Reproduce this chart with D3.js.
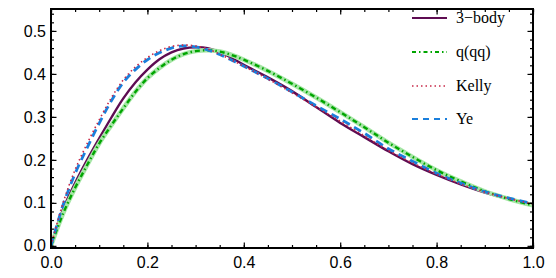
<!DOCTYPE html>
<html>
<head>
<meta charset="utf-8">
<script src="https://cdn.jsdelivr.net/npm/d3@7"></script>
<style>
  body { margin: 0; background: #fff; }
  svg { display: block; }
</style>
</head>
<body>
<svg></svg>
<script>
const xs = [0, 0.025, 0.05, 0.075, 0.1, 0.125, 0.15, 0.175, 0.2, 0.225, 0.25, 0.275, 0.3, 0.325, 0.35, 0.375, 0.4,
            0.45, 0.5, 0.55, 0.6, 0.65, 0.7, 0.75, 0.8, 0.85, 0.9, 0.95, 1.0];

const threeBody = [0, 0.085, 0.146, 0.200, 0.250, 0.298, 0.343, 0.380, 0.410, 0.434, 0.450, 0.459, 0.462, 0.460, 0.451, 0.437, 0.421,
                   0.392, 0.360, 0.323, 0.286, 0.253, 0.220, 0.190, 0.165, 0.143, 0.124, 0.109, 0.097];
const qqq = [0, 0.075, 0.135, 0.188, 0.238, 0.280, 0.320, 0.358, 0.390, 0.414, 0.433, 0.446, 0.453, 0.455, 0.452, 0.444, 0.433,
             0.407, 0.377, 0.345, 0.311, 0.276, 0.240, 0.207, 0.176, 0.150, 0.127, 0.109, 0.094];
const kelly = [0, 0.100, 0.177, 0.238, 0.293, 0.344, 0.386, 0.416, 0.438, 0.454, 0.464, 0.467, 0.465, 0.458, 0.446, 0.432, 0.418,
               0.388, 0.356, 0.323, 0.290, 0.256, 0.222, 0.193, 0.167, 0.144, 0.125, 0.110, 0.097];
const ye = [0, 0.095, 0.168, 0.228, 0.285, 0.337, 0.380, 0.410, 0.433, 0.449, 0.460, 0.465, 0.463, 0.456, 0.445, 0.432, 0.418,
            0.389, 0.358, 0.326, 0.295, 0.262, 0.226, 0.197, 0.169, 0.146, 0.126, 0.111, 0.098];

const xTicks = [0, 0.2, 0.4, 0.6, 0.8, 1.0];
const yTicks = [0, 0.1, 0.2, 0.3, 0.4, 0.5];
const legendNames = ['3\u2212body', 'q(qq)', 'Kelly', 'Ye'];

const width = 556;
const height = 278;
const padLeft = 51, padRight = 533, padTop = 9, padBottom = 248;

const svg = d3.select('svg').attr('width', width).attr('height', height);

const xScale = d3.scaleLinear().domain([0, 1]).range([padLeft, padRight]);
const yScale = d3.scaleLinear().domain([-0.005, 0.551]).range([padBottom, padTop]);

const series = [
  { name: legendNames[0], values: threeBody, color: '#5e0c52', width: 2.4, dash: null },
  { name: legendNames[1], values: qqq, color: '#00a500', width: 2.4, dash: '5,3,1.5,3', halo: '#a6e6a6' },
  { name: legendNames[3], values: ye, color: '#1a7fdc', width: 2.8, dash: '8,5' },
  { name: legendNames[2], values: kelly, color: '#c82848', width: 1.6, dash: '1.5,3' }
];

const line = d3.line()
  .x((d, i) => xScale(xs[i]))
  .y(d => yScale(d))
  .curve(d3.curveCatmullRom.alpha(0.5));

const plot = svg.append('g');
plot.append('clipPath').attr('id', 'clip')
  .append('rect').attr('x', padLeft).attr('y', padTop).attr('width', padRight - padLeft).attr('height', padBottom - padTop);

const curves = plot.append('g').attr('clip-path', 'url(#clip)');
series.forEach(s => {
  if (s.halo) {
    curves.append('path').attr('d', line(s.values)).attr('fill', 'none')
      .attr('stroke', s.halo).attr('stroke-width', 4.5);
  }
  curves.append('path').attr('d', line(s.values)).attr('fill', 'none')
    .attr('stroke', s.color).attr('stroke-width', s.width)
    .attr('stroke-dasharray', s.dash);
});

// frame and ticks
const minorX = d3.range(0, 1.0001, 0.05);
const minorY = d3.range(0, 0.5501, 0.02);

const axes = svg.append('g');
axes.append('g').attr('transform', `translate(0,${padBottom})`)
  .call(d3.axisBottom(xScale).tickValues(minorX).tickSize(-3).tickFormat(''));
axes.append('g').attr('transform', `translate(0,${padBottom})`)
  .call(d3.axisBottom(xScale).tickValues(xTicks).tickSize(-5.5).tickPadding(9).tickFormat(d3.format('.1f')));
axes.append('g').attr('transform', `translate(0,${padTop})`)
  .call(d3.axisTop(xScale).tickValues(minorX).tickSize(-3).tickFormat(''));
axes.append('g').attr('transform', `translate(0,${padTop})`)
  .call(d3.axisTop(xScale).tickValues(xTicks).tickSize(-5.5).tickFormat(''));
axes.append('g').attr('transform', `translate(${padLeft},0)`)
  .call(d3.axisLeft(yScale).tickValues(minorY).tickSize(-3).tickFormat(''));
axes.append('g').attr('transform', `translate(${padLeft},0)`)
  .call(d3.axisLeft(yScale).tickValues(yTicks).tickSize(-5.5).tickPadding(5).tickFormat(d3.format('.1f')));
axes.append('g').attr('transform', `translate(${padRight},0)`)
  .call(d3.axisRight(yScale).tickValues(minorY).tickSize(-3).tickFormat(''));
axes.append('g').attr('transform', `translate(${padRight},0)`)
  .call(d3.axisRight(yScale).tickValues(yTicks).tickSize(-5.5).tickFormat(''));

axes.selectAll('.domain').remove();
axes.selectAll('.tick line').attr('stroke', '#000').attr('stroke-width', 1.2);
axes.selectAll('.tick text').attr('font-family', "'Liberation Sans', Arial, sans-serif")
  .attr('font-size', 16).attr('fill', '#000');

axes.append('rect').attr('x', padLeft).attr('y', padTop).attr('width', padRight - padLeft).attr('height', padBottom - padTop)
  .attr('fill', 'none').attr('stroke', '#000').attr('stroke-width', 2);

// legend
const legendY = [18, 52, 86, 119];
const legendOrder = [series[0], series[1], series[3], series[2]];
const legend = svg.append('g');
legendOrder.forEach((s, i) => {
  const g = legend.append('g').attr('transform', `translate(0,${legendY[i]})`);
  g.append('line').attr('x1', 412).attr('x2', 447).attr('y1', 0).attr('y2', 0)
    .attr('stroke', s.color).attr('stroke-width', s.name === 'Kelly' ? 1.4 : 2)
    .attr('stroke-dasharray', s.name === 'q(qq)' ? '4,3,1.5,3' : s.name === 'Ye' ? '6,5' : s.dash);
  g.append('text').attr('x', 456).attr('y', 5)
    .attr('font-family', "'Liberation Serif', 'Times New Roman', serif")
    .attr('font-size', 16).text(s.name);
});
</script>
</body>
</html>
